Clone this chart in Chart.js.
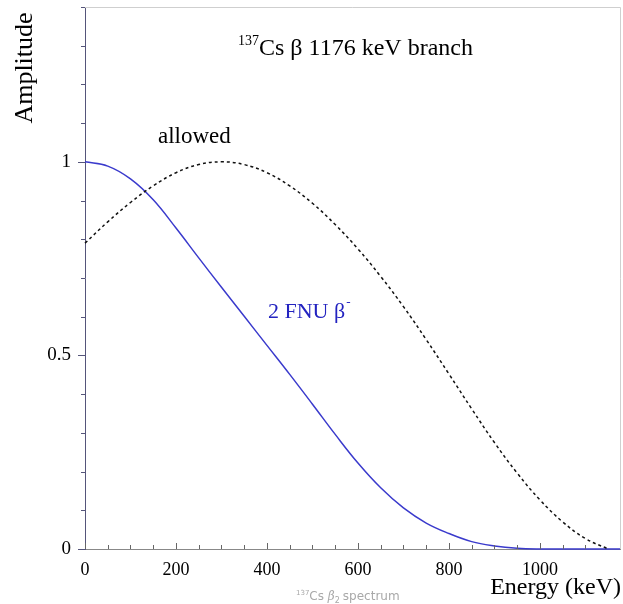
<!DOCTYPE html>
<html lang="en">
<head>
  <meta charset="UTF-8" />
  <title>137Cs beta 1176 keV branch</title>
  <style>
    body { margin: 0; padding: 0; background: #fff; }
    #wrap { width: 623px; height: 604px; position: relative; }
  </style>
</head>
<body>
  <div id="wrap"><canvas id="spectrum" width="623" height="604"></canvas></div>

  <script src="https://cdn.jsdelivr.net/npm/chart.js"></script>
  <script>
    // energy grid (keV)
    const energyKeV = [0, 50, 100, 150, 200, 250, 300, 350, 400, 450, 500, 550, 600,
                       650, 700, 750, 800, 850, 900, 950, 1000, 1050, 1100, 1150, 1176];
    // dashed black curve ("allowed")
    const allowedAmp = [0.79, 0.845, 0.895, 0.938, 0.972, 0.993, 1.0, 0.993, 0.972, 0.938, 0.893, 0.838, 0.775,
                        0.704, 0.626, 0.541, 0.452, 0.362, 0.275, 0.196, 0.127, 0.07, 0.027, 0.0, null];
    // solid blue curve ("2 FNU beta-")
    const fnuAmp = [1.0, 0.989, 0.956, 0.902, 0.829, 0.752, 0.676, 0.601, 0.526, 0.451, 0.374, 0.296, 0.222,
                    0.158, 0.106, 0.067, 0.04, 0.019, 0.008, 0.002, 0.0, 0.0, 0.0, 0.0, 0.0];
    const xLabels = [0, 200, 400, 600, 800, 1000];
    const yLabels = [0, 0.5, 1];

    const serif = '"Liberation Serif", "DejaVu Serif", serif';
    const toPoints = ys => energyKeV.map((e, i) => ({ x: e, y: ys[i] }));
    const noPad = s => { s.paddingTop = 0; s.paddingBottom = 0; s.paddingLeft = 0; s.paddingRight = 0; };

    // extra drawing: frame, tick marks, labels
    const decorations = {
      id: 'decorations',
      afterDraw(chart) {
        const { ctx, chartArea: a, scales: { x, y } } = chart;
        ctx.save();
        // light frame top/right
        ctx.strokeStyle = '#cfcfcf';
        ctx.lineWidth = 1;
        ctx.beginPath();
        ctx.moveTo(a.left, a.top + 0.5);
        ctx.lineTo(a.right + 0.5, a.top + 0.5);
        ctx.lineTo(a.right + 0.5, a.bottom);
        ctx.stroke();

        // y ticks (outward)
        ctx.strokeStyle = '#55557a';
        y.ticks.forEach(t => {
          const major = yLabels.some(v => Math.abs(v - t.value) < 1e-6);
          const py = Math.round(y.getPixelForValue(t.value)) + 0.5;
          ctx.beginPath();
          ctx.moveTo(a.left - (major ? 7 : 4), py);
          ctx.lineTo(a.left, py);
          ctx.stroke();
        });
        // x ticks (inward)
        ctx.strokeStyle = '#666';
        x.ticks.forEach(t => {
          if (t.value % 50 !== 0) return;
          const major = xLabels.includes(t.value);
          const px = Math.round(x.getPixelForValue(t.value)) + 0.5;
          ctx.beginPath();
          ctx.moveTo(px, a.bottom);
          ctx.lineTo(px, a.bottom - (major ? 6 : 4));
          ctx.stroke();
        });

        ctx.fillStyle = '#000';
        ctx.textBaseline = 'alphabetic';
        // y axis title
        ctx.save();
        ctx.translate(32, 68);
        ctx.rotate(-Math.PI / 2);
        ctx.textAlign = 'center';
        ctx.font = '26px ' + serif;
        ctx.fillText('Amplitude', 0, 0);
        ctx.restore();

        // chart title with superscript
        ctx.textAlign = 'left';
        let tx = 238;
        ctx.font = '14px ' + serif;
        ctx.fillText('137', tx, 45);
        tx += ctx.measureText('137').width;
        ctx.font = '24px ' + serif;
        ctx.fillText('Cs \u03B2 1176 keV branch', tx, 55);

        // curve labels
        ctx.font = '23px ' + serif;
        ctx.fillText('allowed', 158, 143);
        ctx.fillStyle = '#2323c0';
        ctx.font = '22px ' + serif;
        ctx.fillText('2 FNU \u03B2', 268, 318);
        const bw = ctx.measureText('2 FNU \u03B2').width;
        ctx.font = '13px ' + serif;
        ctx.fillText('-', 268 + bw + 1, 306);

        // x axis title
        ctx.fillStyle = '#000';
        ctx.textAlign = 'right';
        ctx.font = '24px ' + serif;
        ctx.fillText('Energy (keV)', 621, 594);

        // faint caption
        ctx.textAlign = 'left';
        ctx.fillStyle = '#a8a8a8';
        let cx = 296;
        ctx.font = '7px "DejaVu Sans", sans-serif';
        ctx.fillText('137', cx, 595);
        cx += ctx.measureText('137').width;
        ctx.font = '12px "DejaVu Sans", sans-serif';
        ctx.fillText('Cs ', cx, 600);
        cx += ctx.measureText('Cs ').width;
        ctx.font = 'italic 12px "DejaVu Serif", serif';
        ctx.fillText('\u03B2', cx, 600);
        cx += ctx.measureText('\u03B2').width;
        ctx.font = '8px "DejaVu Sans", sans-serif';
        ctx.fillText('2', cx, 603);
        cx += ctx.measureText('2').width + 3;
        ctx.font = '12px "DejaVu Sans", sans-serif';
        ctx.fillText('spectrum', cx, 600);
        ctx.restore();
      }
    };

    const chart = new Chart(document.getElementById('spectrum'), {
      type: 'line',
      data: {
        datasets: [
          {
            label: 'allowed',
            data: toPoints(allowedAmp),
            borderColor: '#111',
            borderWidth: 1.5,
            borderDash: [3, 3],
            pointRadius: 0,
            tension: 0.4,
            spanGaps: false
          },
          {
            label: '2 FNU',
            data: toPoints(fnuAmp),
            borderColor: '#3a3acc',
            borderWidth: 1.5,
            pointRadius: 0,
            tension: 0.4
          }
        ]
      },
      options: {
        responsive: false,
        animation: false,
        clip: false,
        layout: { padding: { left: 0, right: 3, top: 7, bottom: 0 } },
        plugins: { legend: { display: false }, tooltip: { enabled: false } },
        scales: {
          x: {
            type: 'linear',
            min: 0,
            max: 1176,
            grid: { display: false, drawTicks: false },
            border: { display: true, color: '#888', width: 1 },
            ticks: {
              stepSize: 50,
              autoSkip: false,
              maxRotation: 0,
              padding: 10,
              color: '#000',
              font: { family: serif, size: 18 },
              callback: v => (xLabels.includes(v) ? String(v) : '')
            },
            afterFit: s => { s.height = 55; noPad(s); }
          },
          y: {
            min: 0,
            max: 1.4,
            grid: { display: false, drawTicks: false },
            border: { display: true, color: '#55557a', width: 1 },
            ticks: {
              stepSize: 0.1,
              autoSkip: false,
              padding: 14,
              color: '#000',
              font: { family: serif, size: 19 },
              callback: v => {
                const hit = yLabels.find(l => Math.abs(l - v) < 1e-6);
                return hit === undefined ? '' : String(hit);
              }
            },
            afterFit: s => { s.width = 85; noPad(s); }
          }
        }
      },
      plugins: [decorations]
    });
  </script>
</body>
</html>
